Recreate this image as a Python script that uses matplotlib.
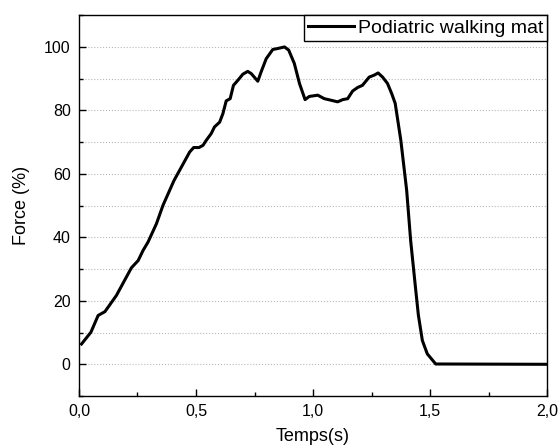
import numpy as np
import matplotlib.pyplot as plt
from matplotlib.ticker import FuncFormatter, MultipleLocator

plt.rcParams['font.family'] = ['Liberation Sans', 'DejaVu Sans']

# force curve of one step on the mat
temps = [0.011, 0.051, 0.082, 0.111, 0.16, 0.224, 0.253, 0.274, 0.295, 0.331,
         0.359, 0.406, 0.473, 0.49, 0.513, 0.53, 0.544, 0.565, 0.579, 0.601,
         0.615, 0.629, 0.646, 0.66, 0.679, 0.7, 0.721, 0.736, 0.764, 0.778,
         0.8, 0.828, 0.849, 0.878, 0.896, 0.92, 0.942, 0.966, 0.984, 1.02,
         1.048, 1.077, 1.105, 1.127, 1.148, 1.169, 1.19, 1.211, 1.24, 1.261,
         1.278, 1.297, 1.318, 1.336, 1.351, 1.375, 1.40, 1.417, 1.439, 1.45,
         1.467, 1.488, 1.524, 2.0]
force = [6.4, 10.1, 15.4, 16.6, 21.7, 30.4, 32.7, 35.9, 38.5, 44.3,
         50.1, 57.9, 66.9, 68.3, 68.3, 69.0, 70.6, 72.7, 74.8, 76.3,
         79.0, 83.0, 83.7, 87.9, 89.5, 91.4, 92.3, 91.6, 89.2, 92.1,
         96.3, 99.2, 99.5, 100.0, 99.0, 94.8, 88.5, 83.4, 84.4, 84.8,
         83.7, 83.2, 82.7, 83.4, 83.7, 86.1, 87.2, 87.9, 90.5, 91.1,
         91.8, 90.5, 88.5, 85.3, 82.2, 70.6, 54.8, 39.0, 23.2, 15.5,
         7.5, 3.3, 0.1, 0.0]

fig = plt.figure(figsize=(5.6, 4.47), dpi=100)
ax = fig.add_axes([0.141, 0.114, 0.836, 0.852])

ax.plot(temps, force, color='black', lw=2.2, solid_joinstyle='round',
        label='Podiatric walking mat')

ax.set_xlim(0, 2.0)
ax.set_ylim(-10, 110)
ax.xaxis.set_major_locator(MultipleLocator(0.5))
ax.xaxis.set_minor_locator(MultipleLocator(0.25))
ax.yaxis.set_major_locator(MultipleLocator(20))
ax.yaxis.set_minor_locator(MultipleLocator(10))
ax.xaxis.set_major_formatter(FuncFormatter(lambda v, p: f"{v:.1f}".replace('.', ',')))

ax.tick_params(which='major', direction='in', length=5, width=1, labelsize=11.5, pad=6)
ax.tick_params(which='minor', direction='in', length=3, width=1)
ax.tick_params(axis='both', which='both', top=False, right=False)
for s in ax.spines.values():
    s.set_linewidth(1)

ax.grid(True, axis='y', which='both', linestyle=':', color='#b8b8b8', lw=0.8)

ax.set_xlabel('Temps(s)', fontsize=13, labelpad=6)
ax.set_ylabel('Force (%)', fontsize=13, labelpad=10)

leg = ax.legend(loc='upper right', fontsize=14, borderaxespad=0, fancybox=False,
                framealpha=1, edgecolor='black', handlelength=2.35,
                borderpad=0.2, handletextpad=0.2)
leg.get_frame().set_linewidth(1)

fig.savefig('out.png', dpi=100)
